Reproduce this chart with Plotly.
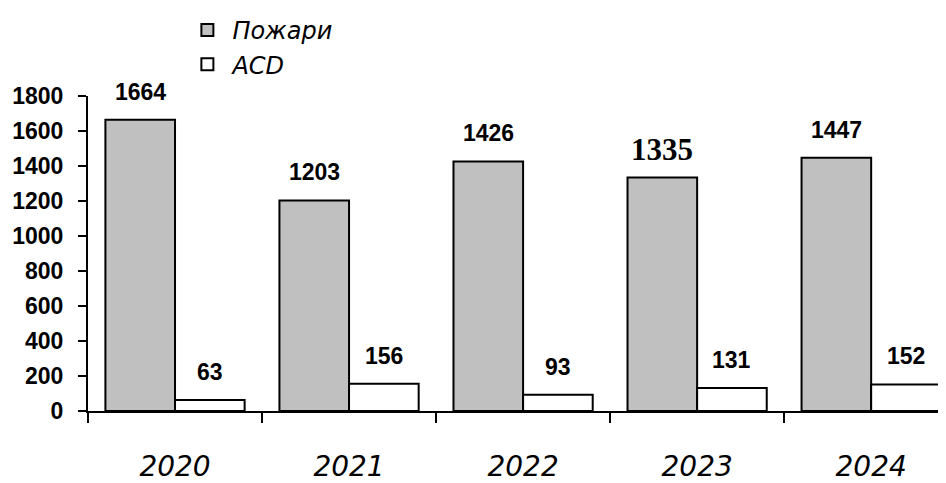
import plotly.graph_objects as go

years = ["2020", "2021", "2022", "2023", "2024"]
fires = [1664, 1203, 1426, 1335, 1447]
asd = [63, 156, 93, 131, 152]
y_ticks = [0, 200, 400, 600, 800, 1000, 1200, 1400, 1600, 1800]

fig = go.Figure()
fig.add_trace(go.Bar(
    x=years, y=fires, name="Пожари",
    marker=dict(color="#c0c0c0", line=dict(color="black", width=2)),
))
fig.add_trace(go.Bar(
    x=years, y=asd, name="АСD",
    marker=dict(color="white", line=dict(color="black", width=2)),
))

annotations = []
for i, v in enumerate(fires):
    times = (years[i] == "2023")
    annotations.append(dict(
        x=i - 0.2, y=v, xref="x", yref="y", text=f"<b>{v}</b>",
        showarrow=False, yanchor="middle", yshift=28,
        font=dict(family="Liberation Serif" if times else "Liberation Sans",
                  size=31 if times else 23, color="black"),
    ))
for i, v in enumerate(asd):
    annotations.append(dict(
        x=i + 0.2, y=v, xref="x", yref="y", text=f"<b>{v}</b>",
        showarrow=False, yanchor="middle", yshift=28,
        font=dict(family="Liberation Sans", size=23, color="black"),
    ))

fig.update_layout(
    width=946, height=483,
    margin=dict(l=80, r=8, t=88, b=80, autoexpand=False),
    paper_bgcolor="white", plot_bgcolor="white",
    barmode="group", bargap=0.2, bargroupgap=0,
    showlegend=True,
    legend=dict(
        xref="paper", yref="container",
        x=0.11, y=1.035, xanchor="left", yanchor="top",
        font=dict(family="DejaVu Sans", size=24, color="black", style="italic"),
        tracegroupgap=0, bgcolor="rgba(0,0,0,0)", itemwidth=40,
    ),
    annotations=annotations,
    xaxis=dict(
        type="category", range=[-0.5, 4.43],
        showline=True, linecolor="black", linewidth=2,
        ticks="outside", ticklen=10, tickwidth=2, tickcolor="black",
        tickson="boundaries", ticklabelstandoff=29,
        tickfont=dict(family="DejaVu Sans", size=28, color="black", style="italic"),
        showgrid=False, zeroline=False,
    ),
    yaxis=dict(
        range=[0, 1800], tickvals=y_ticks,
        showline=True, linecolor="black", linewidth=2,
        ticks="outside", ticklen=8, tickwidth=2, tickcolor="black",
        tickfont=dict(family="Liberation Sans", size=23, color="black", weight="bold"),
        showgrid=False, zeroline=False, ticklabelstandoff=10,
    ),
)

fig.write_html("out.html")
